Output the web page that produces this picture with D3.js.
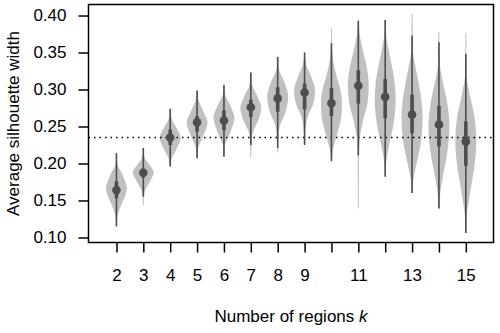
<!DOCTYPE html>
<html>
<head>
<meta charset="utf-8">
<script src="https://cdn.jsdelivr.net/npm/d3@7"></script>
<style>
  body { margin: 0; background: #fff; }
  svg { display: block; font-family: "Liberation Sans", Arial, sans-serif; }
</style>
</head>
<body>
<div id="chart"></div>
<script>
// number of regions k and the summary of average silhouette width per k
const ks = [2, 3, 4, 5, 6, 7, 8, 9, 10, 11, 12, 13, 14, 15];
const medians = [0.164, 0.1875, 0.235, 0.2556, 0.258, 0.276, 0.288, 0.296, 0.2814, 0.305, 0.290, 0.266, 0.2525, 0.2295];
const q1 = [0.153, 0.181, 0.225, 0.243, 0.245, 0.263, 0.270, 0.273, 0.264, 0.281, 0.261, 0.241, 0.223, 0.197];
const q3 = [0.176, 0.193, 0.246, 0.264, 0.272, 0.286, 0.303, 0.308, 0.302, 0.326, 0.314, 0.293, 0.278, 0.257];
const whiskLo = [0.115, 0.155, 0.196, 0.207, 0.209, 0.225, 0.221, 0.225, 0.203, 0.211, 0.182, 0.160, 0.139, 0.106];
const whiskHi = [0.214, 0.221, 0.274, 0.2985, 0.306, 0.323, 0.344, 0.350, 0.3626, 0.393, 0.394, 0.373, 0.364, 0.348];

// violin outlines: [value, relative half width]
const violinShapes = [
  [[0.115, 0], [0.125, 0.06], [0.132, 0.15], [0.144, 0.45], [0.155, 0.8], [0.166, 1], [0.175, 0.85], [0.187, 0.5], [0.198, 0.12], [0.214, 0]],
  [[0.144, 0], [0.155, 0.04], [0.163, 0.15], [0.175, 0.6], [0.188, 1], [0.198, 0.6], [0.207, 0.15], [0.221, 0]],
  [[0.196, 0], [0.205, 0.1], [0.218, 0.55], [0.235, 1], [0.248, 0.6], [0.260, 0.15], [0.274, 0]],
  [[0.207, 0], [0.220, 0.1], [0.238, 0.6], [0.255, 1], [0.270, 0.6], [0.288, 0.1], [0.2985, 0]],
  [[0.209, 0], [0.225, 0.1], [0.242, 0.6], [0.262, 1], [0.278, 0.6], [0.293, 0.12], [0.306, 0]],
  [[0.208, 0], [0.225, 0.05], [0.240, 0.15], [0.258, 0.7], [0.275, 1], [0.290, 0.65], [0.305, 0.15], [0.323, 0]],
  [[0.215, 0], [0.230, 0.05], [0.250, 0.2], [0.270, 0.75], [0.290, 1], [0.308, 0.7], [0.326, 0.15], [0.344, 0]],
  [[0.225, 0], [0.245, 0.08], [0.263, 0.3], [0.280, 0.8], [0.298, 1], [0.315, 0.7], [0.332, 0.2], [0.350, 0]],
  [[0.203, 0], [0.215, 0.1], [0.235, 0.45], [0.260, 0.9], [0.280, 1], [0.300, 0.85], [0.320, 0.45], [0.340, 0.15], [0.362, 0.04], [0.383, 0]],
  [[0.139, 0], [0.180, 0.02], [0.211, 0.05], [0.235, 0.15], [0.255, 0.4], [0.280, 0.85], [0.305, 1], [0.330, 0.8], [0.355, 0.4], [0.375, 0.12], [0.393, 0]],
  [[0.182, 0], [0.200, 0.08], [0.220, 0.3], [0.250, 0.75], [0.285, 1], [0.315, 0.85], [0.345, 0.45], [0.370, 0.12], [0.394, 0]],
  [[0.160, 0], [0.175, 0.08], [0.195, 0.35], [0.225, 0.8], [0.262, 1], [0.295, 0.8], [0.325, 0.4], [0.350, 0.1], [0.373, 0.03], [0.402, 0]],
  [[0.139, 0], [0.155, 0.08], [0.180, 0.35], [0.215, 0.8], [0.250, 1], [0.285, 0.75], [0.315, 0.3], [0.335, 0.08], [0.364, 0.02], [0.378, 0]],
  [[0.106, 0], [0.128, 0.08], [0.160, 0.4], [0.200, 0.85], [0.230, 1], [0.265, 0.8], [0.295, 0.35], [0.318, 0.08], [0.348, 0.02], [0.376, 0]]
];

const refLine = 0.235;
const yTicks = [0.10, 0.15, 0.20, 0.25, 0.30, 0.35, 0.40];
const xTickLabels = ["2", "3", "4", "5", "6", "7", "8", "9", "", "11", "", "13", "", "15"];

const W = 500, H = 333;
const margin = { top: 4.5, right: 6.5, bottom: 90.5, left: 88.5 };
const innerW = W - margin.left - margin.right;
const innerH = H - margin.top - margin.bottom;

const dark = '#4d4d4d';
const light = '#c0c0c0';

const svg = d3.select('#chart').append('svg')
  .attr('width', W)
  .attr('height', H);

const g = svg.append('g')
  .attr('transform', `translate(${margin.left},${margin.top})`);

const x = d3.scaleLinear().domain([0.96, 16.03]).range([0, innerW]);
const y = d3.scaleLinear().domain([0.0932, 0.4149]).range([innerH, 0]);
const w = d3.scaleLinear().domain([0, 1]).range([0, 10.5]);

// thin violin tails
g.selectAll('.tail')
  .data(ks)
  .join('line')
  .attr('class', 'tail')
  .attr('x1', d => x(d)).attr('x2', d => x(d))
  .attr('y1', (d, i) => y(violinShapes[i][0][0]))
  .attr('y2', (d, i) => y(violinShapes[i][violinShapes[i].length - 1][0]))
  .attr('stroke', light)
  .attr('stroke-width', 1);

// violins
ks.forEach((k, i) => {
  const area = d3.area()
    .x0(d => x(k) - w(d[1]))
    .x1(d => x(k) + w(d[1]))
    .y(d => y(d[0]))
    .curve(d3.curveMonotoneY);
  g.append('path')
    .datum(violinShapes[i])
    .attr('d', area)
    .attr('fill', light);
});

// reference line
g.append('line')
  .attr('x1', 0).attr('x2', innerW)
  .attr('y1', y(refLine)).attr('y2', y(refLine))
  .attr('stroke', '#000')
  .attr('stroke-width', 1.5)
  .attr('stroke-dasharray', '1.5,4');

// whiskers
g.selectAll('.whisk')
  .data(ks)
  .join('line')
  .attr('class', 'whisk')
  .attr('x1', d => x(d)).attr('x2', d => x(d))
  .attr('y1', (d, i) => y(whiskLo[i]))
  .attr('y2', (d, i) => y(whiskHi[i]))
  .attr('stroke', dark)
  .attr('stroke-width', 1.6);

// inter-quartile boxes
g.selectAll('.iqr')
  .data(ks)
  .join('rect')
  .attr('class', 'iqr')
  .attr('x', d => x(d) - 1.8)
  .attr('width', 3.6)
  .attr('y', (d, i) => y(q3[i]))
  .attr('height', (d, i) => y(q1[i]) - y(q3[i]))
  .attr('fill', dark);

// medians
g.selectAll('.med')
  .data(ks)
  .join('circle')
  .attr('class', 'med')
  .attr('cx', d => x(d))
  .attr('cy', (d, i) => y(medians[i]))
  .attr('r', 4.3)
  .attr('fill', dark);

// axes
const yAxis = g.append('g')
  .call(d3.axisLeft(y).tickValues(yTicks).tickFormat(d3.format('.2f')).tickSize(10).tickPadding(12));
const xAxis = g.append('g')
  .attr('transform', `translate(0,${innerH})`)
  .call(d3.axisBottom(x).tickValues(ks).tickFormat((d, i) => xTickLabels[i]).tickSize(10).tickPadding(16));

[yAxis, xAxis].forEach(a => {
  a.select('.domain').remove();
  a.selectAll('line').attr('stroke', '#000').attr('stroke-width', 1.5);
  a.selectAll('text').attr('fill', '#000').style('font-size', '17px')
    .style('font-family', '"Liberation Sans", Arial, sans-serif');
});

// box
g.append('rect')
  .attr('x', 0).attr('y', 0)
  .attr('width', innerW).attr('height', innerH)
  .attr('fill', 'none')
  .attr('stroke', '#000')
  .attr('stroke-width', 1.5);

// axis titles
const xTitle = svg.append('text')
  .attr('x', margin.left + innerW / 2)
  .attr('y', 321.5)
  .attr('text-anchor', 'middle')
  .style('font-size', '17px');
xTitle.append('tspan').text('Number of regions ');
xTitle.append('tspan').style('font-style', 'italic').text('k');

svg.append('text')
  .attr('transform', `translate(18.5,${margin.top + innerH / 2}) rotate(-90)`)
  .attr('text-anchor', 'middle')
  .style('font-size', '17px')
  .text('Average silhouette width');
</script>
</body>
</html>
